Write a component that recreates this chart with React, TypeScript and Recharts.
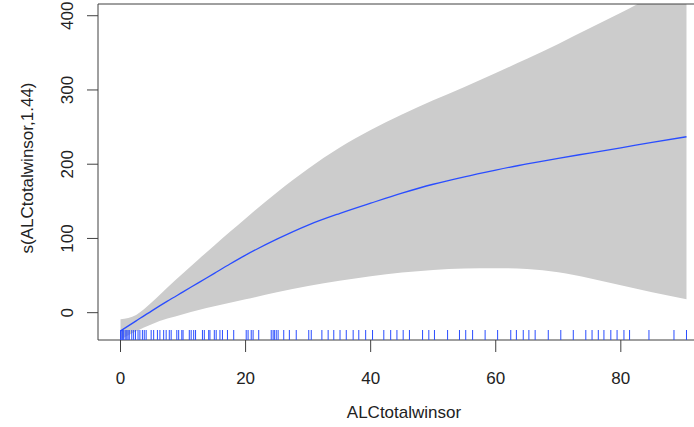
import React from "react";
import {
  ComposedChart,
  Area,
  Line,
  Scatter,
  XAxis,
  YAxis,
  ReferenceLine,
} from "recharts";

// smooth estimate with its confidence band
const xs = [0, 2.5, 5, 7.5, 10, 12.5, 15, 17.5, 20, 25, 30, 35, 40, 45, 50, 55, 60, 65, 70, 75, 80, 85, 90.5];
const fit = [-24.6, -11, 2.5, 15.5, 28, 40.5, 53, 65.5, 77.5, 99, 118, 133.5, 147.5, 161, 173, 183, 192, 200.5, 208, 215, 222, 229.5, 237];
const upper = [-9, -3, 14, 34, 53, 72, 90.5, 109, 127, 162, 194, 222, 246, 267, 286, 304, 323, 342, 362, 383, 404, 426, 450];
const lower = [-36, -25, -15.5, -8, -2, 3.5, 8.5, 13.5, 18, 27.5, 36, 43, 49, 54, 57.5, 59.5, 60, 58.8, 54.5, 46.5, 37, 27.5, 18];

// rug of observed ALCtotalwinsor values
const rug = [
  0, 0.1, 0.3, 0.5, 0.75, 1, 1.2, 1.4, 1.8, 2.1, 2.4, 2.8, 3.1, 3.5, 3.8, 4.1, 4.9, 5.3, 5.9, 6.3,
  6.9, 7.3, 7.8, 8.1, 9, 9.3, 9.8, 10, 11, 11.3, 11.7, 12, 13.1, 13.4, 14.1, 14.3, 15, 15.3, 15.9,
  16.3, 17.1, 18.1, 20.1, 20.4, 20.9, 21.2, 22.1, 24.1, 24.4, 24.6, 24.9, 25.2, 26.1, 27, 28.1,
  30.1, 30.5, 32.2, 33.2, 34.1, 35.1, 36.1, 37.2, 38.1, 39.2, 40.3, 42.1, 43.2, 44.2, 45.2, 46.2,
  48.3, 49.3, 50.2, 52.3, 54.2, 55.2, 56.3, 58.3, 60.3, 62.4, 63.3, 64.4, 65.3, 66.3, 68.4, 70.4,
  72.4, 74.4, 75.4, 76.4, 77.3, 78.4, 79.4, 80.5, 81.4, 84.5, 88.5, 90.5,
];

const xTicks = [0, 20, 40, 60, 80];
const yTicks = [0, 100, 200, 300, 400];

const X_MIN = -3.6;
const X_MAX = 94.1;
const Y_MIN = -36.8;
const Y_MAX = 415.8;

const FONT = "'Liberation Sans', Arial, sans-serif";
const AXIS = "#404040";
const BLUE = "#2a4dff";

const data = xs.map((x, i) => ({ x, fit: fit[i], band: [lower[i], upper[i]] }));
const rugData = rug.map((x) => ({ x, ry: Y_MIN }));

function XTick({ x, payload }: any) {
  return (
    <text x={x} y={378} textAnchor="middle" dominantBaseline="central" fontSize={17} fontFamily={FONT} fill="#222">
      {payload.value}
    </text>
  );
}

function YTick({ y, payload }: any) {
  return (
    <text
      x={68}
      y={y}
      transform={`rotate(-90 68 ${y})`}
      textAnchor="middle"
      dominantBaseline="central"
      fontSize={17}
      fontFamily={FONT}
      fill="#222"
    >
      {payload.value}
    </text>
  );
}

function RugTick({ cx, cy }: any) {
  return <line x1={cx} x2={cx} y1={cy - 10} y2={cy} stroke={BLUE} strokeWidth={1} />;
}

export default function App() {
  return (
    <div style={{ position: "absolute", left: 0, top: 0, width: 694, height: 427, overflow: "hidden", background: "#fff" }}>
      <ComposedChart width={720} height={427} data={data} margin={{ top: 4, right: 11, left: 0, bottom: 0 }}>
        <XAxis
          dataKey="x"
          type="number"
          domain={[X_MIN, X_MAX]}
          ticks={xTicks}
          allowDataOverflow
          height={87}
          tickSize={12}
          stroke={AXIS}
          tickLine={{ stroke: AXIS }}
          tick={<XTick />}
          label={{
            content: () => (
              <text x={404} y={412} textAnchor="middle" dominantBaseline="central" fontSize={17} fontFamily={FONT} fill="#222">
                ALCtotalwinsor
              </text>
            ),
          }}
        />
        <YAxis
          type="number"
          domain={[Y_MIN, Y_MAX]}
          ticks={yTicks}
          allowDataOverflow
          width={98}
          tickSize={11}
          stroke={AXIS}
          tickLine={{ stroke: AXIS }}
          tick={<YTick />}
          label={{
            content: () => (
              <text
                x={27}
                y={168}
                transform="rotate(-90 27 168)"
                textAnchor="middle"
                dominantBaseline="central"
                fontSize={17}
                fontFamily={FONT}
                fill="#222"
              >
                s(ALCtotalwinsor,1.44)
              </text>
            ),
          }}
        />
        <ReferenceLine y={Y_MAX} stroke={AXIS} ifOverflow="extendDomain" />
        <Area
          type="monotone"
          dataKey="band"
          stroke="none"
          fill="#cccccc"
          fillOpacity={1}
          isAnimationActive={false}
        />
        <Line
          type="monotone"
          dataKey="fit"
          stroke={BLUE}
          strokeWidth={1.3}
          dot={false}
          isAnimationActive={false}
        />
        <Scatter data={rugData} dataKey="ry" shape={<RugTick />} isAnimationActive={false} />
      </ComposedChart>
    </div>
  );
}
